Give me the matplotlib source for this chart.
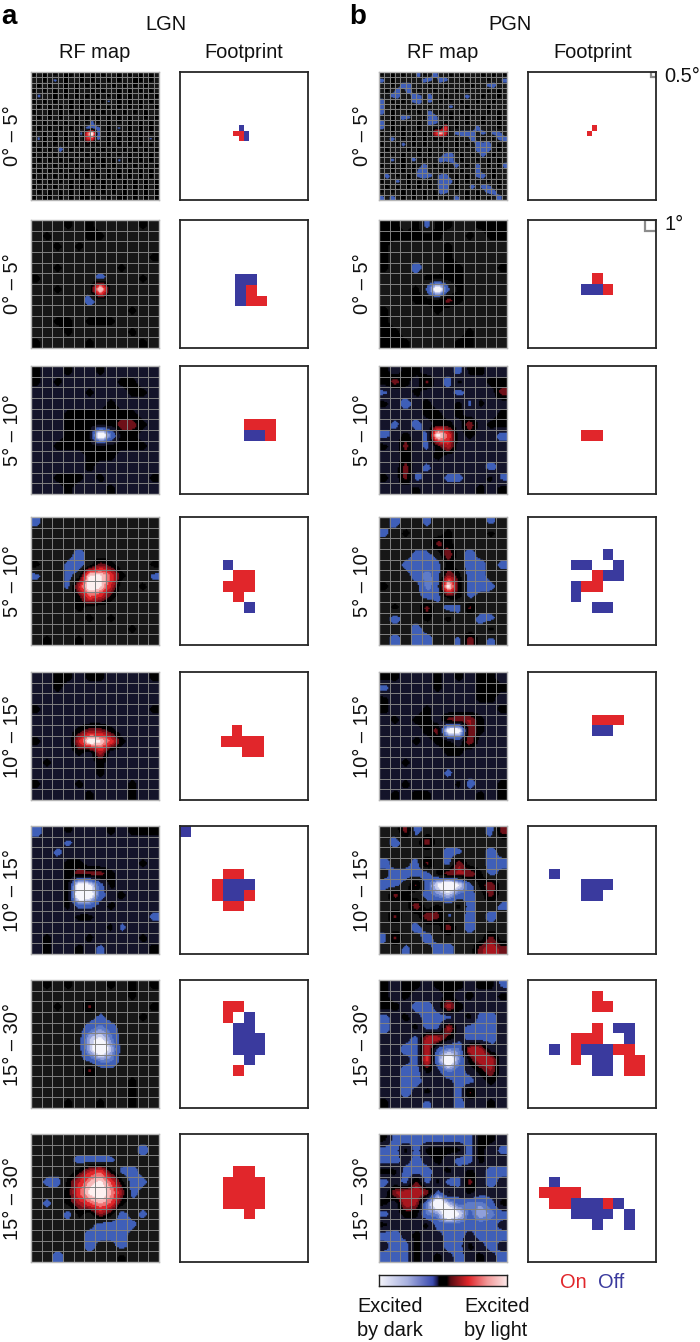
import numpy as np
import matplotlib
matplotlib.use("Agg")
import matplotlib.pyplot as plt
from matplotlib.colors import LinearSegmentedColormap, ListedColormap, BoundaryNorm
from matplotlib.patches import Rectangle

plt.rcParams['font.family'] = ['Liberation Sans', 'DejaVu Sans']

# ---------- data -----------------------------------------------------------
row_labels_lgn = ["0° – 5°", "0° – 5°", "5° – 10°", "5° – 10°", "10° – 15°", "10° – 15°", "15° – 30°", "15° – 30°"]
row_labels_pgn = ["0° – 5°", "0° – 5°", "5° – 10°", "5° – 10°", "10° – 15°", "10° – 15°", "15° – 30°", "15° – 30°"]

# RF maps: one char per grid cell. '.' background, '0' black, ',' a b..f dark response, ';' A..F light response
LEVEL_OF = {'.': -1, '0': 0, ',': -1.85, ';': 1.0, 'a': -2.1, 'b': -3, 'c': -4, 'd': -5, 'e': -6, 'f': -7,
            'A': 1.4, 'B': 2, 'C': 3, 'D': 4, 'E': 5, 'F': 6}

lgn_rf_0 = ["0.0.0.00.0.0.0..0.0.0.0.", "..0.,.0..0.0..0.0..00.0.", ".0.0..0.0.0.0..0.0.0.0..", "0.0.0.0.0..0.0..0.0.0.0.",
            ".,..0.0.0.0.0.0.0.0..0.0", "0.0.0..0.0.0.0,.0.0.0.0.", ".0.0.0.0.0..0.0.0.0.0..0", "0..0.0.0.0.0.0.0.0.0.0..",
            ".0.0.0..0.0.0.0.0.0..0.0", "0.0.0.0.0.0a0.0.0.0.0.0.", ".0.0.0.0.0aaa.0.,.0.0.0.", "0.0.0.0.0aCFa.0.0.0.0.0.",
            ".,0.0.0.0.BCa.0.0.0.0.,0", "0.0.0.0.0.0.0.0.0.0.0.0.", ".0.0.a.0.0.0.0.0.0.0.0.0", "0.0.0.0.0.0.0.0.0.0.0.0.",
            ".0.0.0.0.0.0.0.0,.0.0.0.", "0.0.0.0.0..0.0.0.0.0.0.0", ".0.0.0.0.00.0.0.0.0.0.0.", "0.0.0.0.0.0.0.0.0.0.0.0.",
            ".0.0.0.0.0.0.0.0.0.0.0.0", "0.0.0..0.0.0.0.0.0.0.0.0", ".0.0.0.0.0.0.0.0.0.0.0.0", "0.00.0.0.00.0.0.00.0.0.0"]
lgn_rf_1 = ["...0.0....0.", ".0...00.....", "..0.0.......", "...........0", "..0.....0...", "0.....a...0.",
            "..0...F.....", ".....a......", ".........0..", "..00.000....", "...0.....0..", "0....0....0."]
lgn_rf_2 = ["0..0..0.....", "0.0.....00..", ".....0...00.", ".......0....", "...0000000..", "...00000;;0.",
            "...000fb00..", "..000000000.", ".....000....", ".....0......", "..000.0....0", "...0...0...."]
lgn_rf_3 = [",...........", "............", "............", "....a.......", "0..,a.;0...0", ",..,.EEC0..,",
            "...,BFEB..0.", "....0CB0....", "....0.......", ".....0.0....", ".........0..", ".0..0......."]
lgn_rf_4 = ["..00.00....0", "..0.........", "............", "0..........0", "............", "....0;;0....",
            "0...BFEC0...", "....0.B.....", ".0....0.....", "......0.....", "0...0....0..", ".....0...0.."]
lgn_rf_5 = ["a..0...0.000", "...,........", "..,.........", "...00.....0.", "...0;;;0....", "...0eda0....",
            "...0fea.0...", "...0aa.0....", "....00.....,", ".......0,...", ".0...0....0.", ".0..0.,....0"]
lgn_rf_6 = [".0.0...0.0.0", ".........0..", "..0..;.....0", "......,...0.", ".....aba....", ".....cdb....",
            ".....cfc....", ".....abb....", ".....;......", ".........0..", ".........0..", "...0..0..0.."]
lgn_rf_7 = ["............", "..........a.", "....aaa,....", "....0BC0,a..", ".,a0BDEC0a,.", "...0CEFDAa..",
            ".,.0ACDC0...", "...a0.A0a.,.", "......aaa,..", ".....aaaa...", ".....a..a...", "..a.....0..."]

pgn_rf_0 = ["0.0.0..a0.a..0.0...0.0.0", "a.0.....aa.aa...0...0..a", "..0.aa...0..0....0..aa..", ".0.a.a.0..0...0.0...0.0.",
            "..aa..aa.a..0...a..0..0.", "a.0.0.aa.a.0.0.0..0..0..", "a..0..0..0...a..0...0...", "a.0..0.0.a.0.0.0.0..0.0.",
            "..0.aa..0aa..0..0..0..0.", "a.0..0.0.aa.0.0.0..0..0.", "a.0.0..0..0.C.0...a...0.", "0.0.0.0.0.BEB.aaaa.a.aa.",
            "..a.0.0.0.0.0.0..a.0.0aa", "0..0a.0.0..0..0.0.aaa.0.", ".0...0.0.0..0.0...aaa.0.", "0.0.0..0.0..aa.0.0.a.0..",
            "..a.0.a.0..aaa.0..0.0.0.", "0.0.0.0.a.0.0.a.0.a.0.0a", "..0.0.0aa..0.0.0..a..0..", ".a.0.0.aaa.aa.0.0.aa.0..",
            "0..a.0.0.0.aaa0.0.0.0.0.", ".0.0.0.0.0.aa.0..a.aa.0.", "0.0.0.0.0.0aa.0.0.0.aa..", "a.a.0.0.0.0.0.a.0.0.0.a."]
pgn_rf_1 = ["00.0a00..000", "000000..0.00", "0.....0.....", "0.....0.....", "0..a..00...0", "....0000....",
            "...0,f,0....", "...000;0....", "0....0......", "0...........", "00......0...", "000....00..."]
pgn_rf_2 = ["0.00...a00..", "0;0.;.a0..00", ",..0...a...;", "0.a.0..0,0..", "....00.0...0", ".,.a.00.A.00",
            "a.0.,FC.0..a", "0.;.,0B.....", "..0..0......", "..;.,.....a.", "0.;a..,,..0,", "...0.....0.0"]
pgn_rf_3 = [".a..,.....,.", ",.0...0...0.", ".....;0.....", "...,,.A.a...", "..,aaa0.aa.,", "...abaA0aa..",
            "0...baF0aa,.", "....aa00,...", ".0..;.aa;...", ".a..0.0..a,.", "...a......0.", ".a.aa..,A.,."]
pgn_rf_4 = ["00...0.0.00.", "a....0...000", "0........00.", "0...0......0", ".0.00.;AA0..", "....0;eeA0..",
            "...0.00.A...", "......00....", "..0.........", "......,.....", "..0....0a..0", ".0.00....0.0"]
pgn_rf_5 = ["..;a......a;", ".a..A.......", "......a,..a.", "a..a;.aA..aa", ".aaaa0AAA0a.", "aa.;adfda0A.",
            ".;0.abcaa.;.", "...A.0.0a..,", ".;..A;,.a.a.", "...a..A.a...", "a;..a.....;.", "..,..aa..;B;"]
pgn_rf_6 = ["0.00.000.00,", "0.0...0.0..0", "00.aa.B0....", "a.0.aaa.0aa.", "a..0aaB.aaa.", "...aBB0.aaa.",
            "..aaBabbBB..", "...aCbfb0BB.", "..aa0.ba.0A.", "..aa...aa.0.", "..a.0..a;...", "0...,..a..0."]
pgn_rf_7 = ["0aaaaaaaa00.", "aa0a0000a0.,", "aa.a.0.aa0..", "00aaa.0.0.aa", "a.a;a0aa;.a.", ".ABBAa0.0...",
            "0.BAbfcabba0", "a.00bbfdacba", "0...0aaaaaa.", "aa.0..aa.aaa", ".aa0..aa0.a.", "aaa0.0.a.0.a"]

# Footprints: (column, row) of filled cells
lgn_fp_on = [[(10, 11), (11, 11), (11, 12)],
             [(6, 6), (6, 7), (7, 7)],
             [(6, 5), (7, 5), (8, 5), (8, 6)],
             [(5, 5), (6, 5), (4, 6), (5, 6), (6, 6), (5, 7)],
             [(5, 5), (4, 6), (5, 6), (6, 6), (7, 6), (6, 7), (7, 7)],
             [(4, 4), (5, 4), (3, 5), (3, 6), (6, 6), (4, 7), (5, 7)],
             [(4, 2), (5, 2), (4, 3), (5, 8)],
             [(5, 3), (6, 3), (4, 4), (5, 4), (6, 4), (7, 4), (4, 5), (5, 5), (6, 5), (7, 5), (4, 6), (5, 6), (6, 6), (7, 6), (6, 7)]]
lgn_fp_off = [[(11, 10), (12, 11), (12, 12)],
              [(5, 5), (6, 5), (5, 6), (5, 7)],
              [(6, 6), (7, 6)],
              [(4, 4), (6, 8)],
              [],
              [(0, 0), (4, 5), (5, 5), (6, 5), (4, 6), (5, 6)],
              [(6, 3), (5, 4), (6, 4), (5, 5), (6, 5), (7, 5), (5, 6), (6, 6), (7, 6), (6, 7)],
              []]
pgn_fp_on = [[(12, 10), (11, 11)],
             [(6, 5), (7, 6)],
             [(5, 6), (6, 6)],
             [(6, 5), (5, 6), (6, 6)],
             [(6, 4), (7, 4), (8, 4)],
             [],
             [(6, 1), (6, 2), (7, 2), (6, 4), (4, 5), (5, 5), (6, 5), (4, 6), (4, 7), (8, 6), (9, 6), (9, 7), (10, 7), (9, 8), (10, 8)],
             [(1, 5), (2, 5), (3, 5), (4, 5), (2, 6), (3, 6), (7, 6)]]
pgn_fp_off = [[],
              [(5, 6), (6, 6)],
              [],
              [(7, 3), (4, 4), (5, 4), (8, 4), (7, 5), (8, 5), (4, 6), (4, 7), (6, 8), (7, 8)],
              [(6, 5), (7, 5)],
              [(2, 4), (5, 5), (6, 5), (7, 5), (5, 6), (6, 6)],
              [(8, 4), (9, 4), (9, 5), (2, 6), (5, 6), (6, 6), (7, 6), (6, 7), (7, 7), (6, 8), (7, 8)],
              [(2, 4), (4, 6), (5, 6), (6, 6), (8, 6), (4, 7), (5, 7), (6, 7), (7, 7), (9, 7), (6, 8), (9, 8)]]

colorbar_values = np.linspace(-1, 1, 256)

# ---------- styling ---------------------------------------------------------
W, H = 700, 1342
GRAY_BG, NAVY_BG = '#171717', '#14142a'
lgn_bg = [GRAY_BG, GRAY_BG, NAVY_BG, GRAY_BG, NAVY_BG, NAVY_BG, GRAY_BG, GRAY_BG]
pgn_bg = [GRAY_BG, GRAY_BG, NAVY_BG, GRAY_BG, NAVY_BG, GRAY_BG, NAVY_BG, NAVY_BG]
row_top = [72, 220, 366, 517, 672, 826, 980, 1134]
SIZE = 128
LEVELS = [-9, -4.6, -3.9, -3.2, -2.6, -1.5, -0.4, 0.5, 1.2, 2.0, 3.0, 3.8, 4.6, 9]
BLUE_BANDS = ['#f6f6fc', '#c4cbec', '#8f9fda', '#5f7cc8', '#3f5fb8']
RED_BANDS = ['#6e1018', '#a8161e', '#e0262a', '#ef7474', '#f7b9b9', '#fdf0f0']
FP_RED, FP_BLUE = '#e1262b', '#3a3a9e'
FP_SHIFT = {('lgn', 1): (0.2, 0.1), ('lgn', 4): (-0.16, 0.0)}
UP = 8

fig = plt.figure(figsize=(W / 100, H / 100), dpi=100, facecolor='white')


def px_axes(x0, y0, x1, y1):
    return fig.add_axes([x0 / W, 1 - y1 / H, (x1 - x0) / W, (y1 - y0) / H])


def text_px(x, y, s, **kw):
    kw.setdefault('fontsize', 14.4)
    kw.setdefault('ha', 'center')
    kw.setdefault('va', 'center')
    kw.setdefault('color', '#111111')
    fig.text(x / W, 1 - y / H, s, **kw)


def resample(z):
    n = z.shape[0]
    nodes = np.arange(n) + 0.5
    fine = (np.arange(n * UP) + 0.5) / UP
    z = np.array([np.interp(fine, nodes, row) for row in z])
    z = np.array([np.interp(fine, nodes, col) for col in z.T]).T
    k = np.ones(3) / 3
    p = np.pad(z, 1, mode='edge')
    p = np.apply_along_axis(lambda v: np.convolve(v, k, mode='same'), 0, p)
    p = np.apply_along_axis(lambda v: np.convolve(v, k, mode='same'), 1, p)
    return p[1:-1, 1:-1]


def draw_rf(x0, y0, rows, bg):
    n = len(rows)
    ax = px_axes(x0, y0, x0 + SIZE, y0 + SIZE)
    z = np.array([[LEVEL_OF[c] for c in r.ljust(n, '.')[:n]] for r in rows], dtype=float)
    band_cmap = ListedColormap(BLUE_BANDS + [bg, '#000000'] + RED_BANDS)
    ax.imshow(resample(z), extent=(0, n, n, 0), cmap=band_cmap, norm=BoundaryNorm(LEVELS, band_cmap.N),
              interpolation='antialiased', interpolation_stage='rgba', aspect='auto')
    for k in range(1, n):
        ax.axvline(k, color='#828282', lw=0.7)
        ax.axhline(k, color='#828282', lw=0.7)
    ax.set_xticks([])
    ax.set_yticks([])
    for s in ax.spines.values():
        s.set_color('#b5b5b5')
        s.set_linewidth(1.0)


def draw_fp(x0, y0, on, off, shift, n):
    ax = px_axes(x0, y0, x0 + SIZE, y0 + SIZE)
    m = np.zeros((n, n), dtype=int)
    for c, r in on:
        m[r, c] = 1
    for c, r in off:
        m[r, c] = 2
    edges = np.arange(n + 1)
    ax.pcolormesh(edges + shift[0], edges + shift[1], m, cmap=ListedColormap(['white', FP_RED, FP_BLUE]),
                  vmin=0, vmax=2)
    ax.set_xlim(0, n)
    ax.set_ylim(n, 0)
    ax.set_xticks([])
    ax.set_yticks([])
    for s in ax.spines.values():
        s.set_color('#262626')
        s.set_linewidth(1.3)
    return ax


lgn_rf = [lgn_rf_0, lgn_rf_1, lgn_rf_2, lgn_rf_3, lgn_rf_4, lgn_rf_5, lgn_rf_6, lgn_rf_7]
pgn_rf = [pgn_rf_0, pgn_rf_1, pgn_rf_2, pgn_rf_3, pgn_rf_4, pgn_rf_5, pgn_rf_6, pgn_rf_7]

for i, top in enumerate(row_top):
    n = 24 if i == 0 else 12
    draw_rf(31, top, lgn_rf[i], lgn_bg[i])
    draw_fp(180, top, lgn_fp_on[i], lgn_fp_off[i], FP_SHIFT.get(('lgn', i), (0, 0)), n)
    draw_rf(379, top, pgn_rf[i], pgn_bg[i])
    axf = draw_fp(528, top, pgn_fp_on[i], pgn_fp_off[i], FP_SHIFT.get(('pgn', i), (0, 0)), n)
    if i < 2:
        axf.add_patch(Rectangle((n - 1, 0), 1, 1, fill=False, ec='#8c8c8c', lw=1.6, zorder=1))
        for s in axf.spines.values():
            s.set_zorder(3)
    text_px(13, top + SIZE / 2, row_labels_lgn[i], rotation=90)
    text_px(362, top + SIZE / 2, row_labels_pgn[i], rotation=90)

# Headers
text_px(1, 17, 'a', fontsize=20, fontweight='bold', ha='left', color='black')
text_px(349, 17, 'b', fontsize=20, fontweight='bold', ha='left', color='black')
text_px(166, 25, 'LGN')
text_px(510, 25, 'PGN')
text_px(95, 53, 'RF map')
text_px(244, 53, 'Footprint')
text_px(443, 53, 'RF map')
text_px(593, 53, 'Footprint')
text_px(664, 76, '0.5°', ha='left')
text_px(665, 224, '1°', ha='left')

# Colour bar
cax = px_axes(379, 1275, 507, 1286)
cmap = LinearSegmentedColormap.from_list('rf', [(0, '#f5f5fb'), (0.22, '#a9b2e0'), (0.42, '#3b4bb0'), (0.455, '#1a1a50'),
                                                (0.47, '#000000'), (0.53, '#000000'), (0.56, '#5a0c12'),
                                                (0.70, '#e0262a'), (0.85, '#f39a9a'), (1, '#fbe6e6')])
cax.imshow(colorbar_values[None, :], aspect='auto', cmap=cmap, vmin=-1, vmax=1)
cax.set_xticks([])
cax.set_yticks([])
for s in cax.spines.values():
    s.set_color('#222222')
    s.set_linewidth(1.0)

text_px(357, 1306, 'Excited', ha='left')
text_px(357, 1331, 'by dark', ha='left')
text_px(464, 1306, 'Excited', ha='left')
text_px(464, 1331, 'by light', ha='left')
text_px(560, 1283, 'On', ha='left', color=FP_RED)
text_px(598, 1283, 'Off', ha='left', color=FP_BLUE)

fig.savefig('out.png', dpi=100)
